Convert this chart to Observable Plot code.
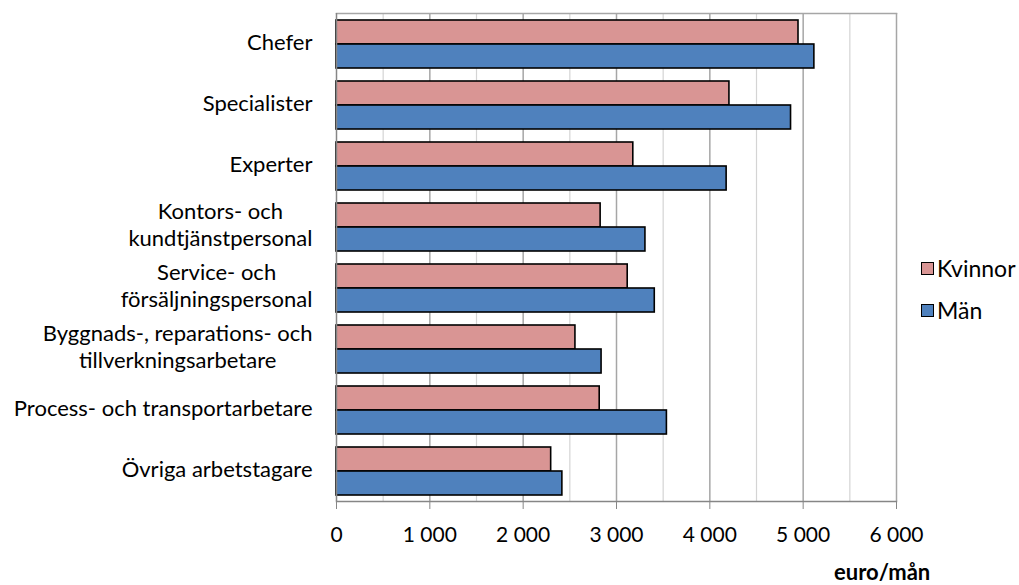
<!DOCTYPE html>
<html>
<head>
<meta charset="utf-8">
<script src="https://cdn.jsdelivr.net/npm/d3@7"></script>
<script src="https://cdn.jsdelivr.net/npm/@observablehq/plot@0.6"></script>
<style>
  html, body { margin: 0; padding: 0; background: #fff; }
  body { width: 1019px; height: 585px; position: relative; overflow: hidden; font-family: Lato, "Open Sans", sans-serif; }
  #chart { position: absolute; left: 0; top: 0; }
  .legend { position: absolute; left: 921px; font-size: 23px; color: #000; display: flex; align-items: center; white-space: nowrap; }
  .legend .sw { width: 11px; height: 11px; border: 1.5px solid #000; margin-right: 3px; }
  #unit { position: absolute; left: 834px; top: 558px; font-size: 22px; font-weight: bold; color: #000; }
</style>
</head>
<body>
<div id="chart"></div>
<div class="legend" style="top:254px"><div class="sw" style="background:#D99594"></div><span>Kvinnor</span></div>
<div class="legend" style="top:296px"><div class="sw" style="background:#4F81BD"></div><span>Män</span></div>
<div id="unit">euro/mån</div>
<script>
const categories = [
  "Chefer",
  "Specialister",
  "Experter",
  "Kontors- och\nkundtjänstpersonal",
  "Service- och\nförsäljningspersonal",
  "Byggnads-, reparations- och\ntillverkningsarbetare",
  "Process- och transportarbetare",
  "Övriga arbetstagare"
];
const series = ["Kvinnor", "Män"];
const kvinnor = [4950, 4210, 3180, 2830, 3120, 2560, 2820, 2300];
const man = [5120, 4870, 4180, 3310, 3410, 2840, 3540, 2420];
const colors = ["#D99594", "#4F81BD"];
const xTicks = [0, 1000, 2000, 3000, 4000, 5000, 6000];
const minorGrid = [500, 1500, 2500, 3500, 4500, 5500];
const majorGrid = [1000, 2000, 3000, 4000, 5000, 6000];

const data = categories.flatMap((c, i) => [
  {category: c, series: series[0], value: kvinnor[i]},
  {category: c, series: series[1], value: man[i]}
]);

const fmt = d => d3.format(",")(d).replace(/,/g, " ");

const svg = Plot.plot({
  width: 1019,
  height: 585,
  marginLeft: 336,
  marginRight: 123,
  marginTop: 10,
  marginBottom: 82,
  style: {fontFamily: "Lato, 'Open Sans', sans-serif", fontSize: "20px", color: "#000", background: "#fff"},
  x: {domain: [0, 6000]},
  y: {domain: series, paddingInner: 0, paddingOuter: 0.26, axis: null},
  fy: {domain: categories, padding: 0, label: null},
  color: {domain: series, range: colors},
  marks: [
    Plot.ruleX(minorGrid, {stroke: "#d4d4d4", strokeWidth: 1.2}),
    Plot.ruleX(majorGrid, {stroke: "#a6a6a6", strokeWidth: 1.5}),
    Plot.frame({anchor: "top", facetAnchor: "top", stroke: "#a6a6a6", strokeWidth: 1.5}),
    Plot.barX(data, {fy: "category", y: "series", x: "value", fill: "series", stroke: "#000", strokeWidth: 1.6}),
    Plot.ruleX([0], {stroke: "#868686", strokeWidth: 1.5}),
    Plot.frame({anchor: "bottom", facetAnchor: "bottom", stroke: "#868686", strokeWidth: 1.5}),
    Plot.axisX(xTicks, {anchor: "bottom", tickFormat: fmt, tickSize: 8, tickPadding: 18, fontSize: 21, stroke: "#868686", label: null}),
    Plot.axisFy({anchor: "left", tickSize: 0, tickPadding: 24, fontSize: 22, lineHeight: 1.23, dy: -3, label: null})
  ]
});

document.getElementById("chart").appendChild(svg);

// Center the lines of wrapped category labels on each other, keeping the block right-aligned
svg.querySelectorAll("text").forEach(t => {
  const spans = t.querySelectorAll("tspan");
  if (spans.length > 1) {
    const w = t.getBBox().width;
    t.setAttribute("text-anchor", "middle");
    spans.forEach(s => s.setAttribute("x", -w / 2));
  }
});
</script>
</body>
</html>
